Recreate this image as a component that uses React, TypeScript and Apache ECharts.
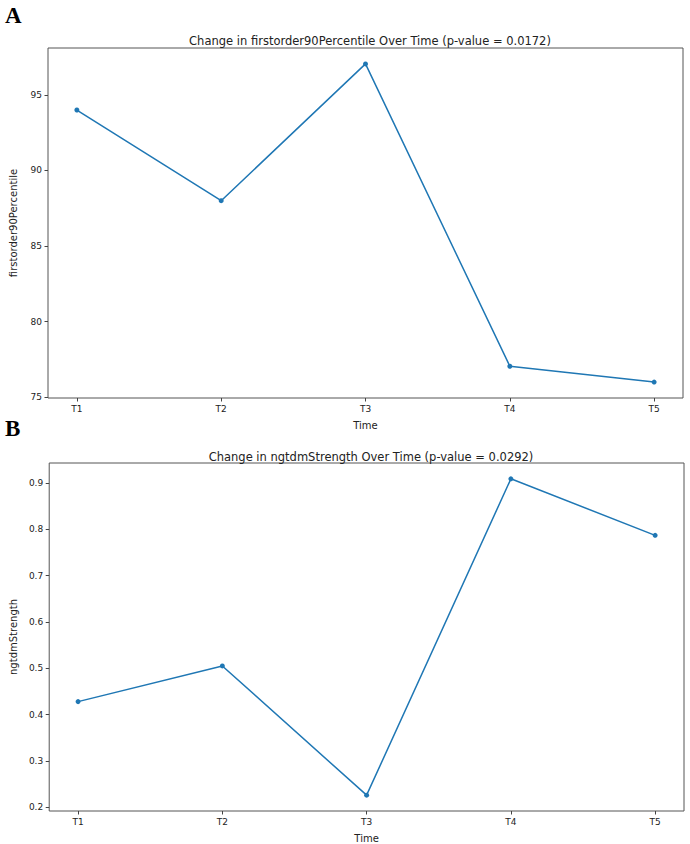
import React, { useEffect, useRef } from "react";
import * as echarts from "echarts";

const timePoints = ["T1", "T2", "T3", "T4", "T5"];
const percentile90 = [94.0, 88.0, 97.05, 77.05, 76.0];
const ngtdmStrength = [0.428, 0.505, 0.226, 0.909, 0.787];
const ticksA = [75, 80, 85, 90, 95];
const ticksB = [0.2, 0.3, 0.4, 0.5, 0.6, 0.7, 0.8, 0.9];

const FONT = "DejaVu Sans";
const LINE = "#1f77b4";
const FRAME = "#555";

function yRange(vals: number[]) {
  const lo = Math.min(...vals);
  const hi = Math.max(...vals);
  const pad = (hi - lo) * 0.05;
  return [lo - pad, hi + pad];
}

export default function App() {
  const ref = useRef<HTMLDivElement>(null);

  useEffect(() => {
    if (!ref.current) return;
    const chart = echarts.init(ref.current, null, { renderer: "svg" });
    const [aMin, aMax] = yRange(percentile90);
    const [bMin, bMax] = yRange(ngtdmStrength);
    const idx = timePoints.map((_, i) => i);

    const xAxisFor = (gridIndex: number) => ({
      type: "value",
      gridIndex,
      position: "bottom",
      min: -0.2,
      max: 4.2,
      name: "Time",
      nameLocation: "middle",
      nameGap: 22,
      nameTextStyle: { fontFamily: FONT, fontSize: 10, color: "#222" },
      axisLine: { show: false, onZero: false },
      axisTick: { show: true, length: 3.5, lineStyle: { color: "#444" }, customValues: idx },
      axisLabel: {
        fontFamily: FONT,
        fontSize: 9,
        color: "#222",
        margin: 6,
        customValues: idx,
        formatter: (v: number) => timePoints[Math.round(v)] ?? "",
      },
      splitLine: { show: false },
    });

    const yAxisFor = (gridIndex: number, min: number, max: number, ticks: number[], name: string, gap: number, dec: number) => ({
      type: "value",
      gridIndex,
      position: "left",
      min,
      max,
      name,
      nameLocation: "middle",
      nameGap: gap,
      nameTextStyle: { fontFamily: FONT, fontSize: 10, color: "#222" },
      axisLine: { show: false, onZero: false },
      axisTick: { show: true, length: 3.5, lineStyle: { color: "#444" }, customValues: ticks },
      axisLabel: {
        fontFamily: FONT,
        fontSize: 9,
        color: "#222",
        margin: 6,
        customValues: ticks,
        formatter: (v: number) => v.toFixed(dec),
      },
      splitLine: { show: false },
    });

    chart.setOption({
      animation: false,
      backgroundColor: "#fff",
      title: [
        {
          text: "Change in firstorder90Percentile Over Time (p-value = 0.0172)",
          left: 365,
          top: 30,
          textAlign: "center",
          textStyle: { fontFamily: FONT, fontSize: 11.5, fontWeight: "normal", color: "#222" },
        },
        {
          text: "Change in ngtdmStrength Over Time (p-value = 0.0292)",
          left: 366,
          top: 446,
          textAlign: "center",
          textStyle: { fontFamily: FONT, fontSize: 11.5, fontWeight: "normal", color: "#222" },
        },
      ],
      graphic: [
        { type: "text", left: 5, top: 4, style: { text: "A", font: "bold 23px 'Liberation Serif'", fill: "#000" } },
        { type: "text", left: 5, top: 417, style: { text: "B", font: "bold 23px 'Liberation Serif'", fill: "#000" } },
      ],
      grid: [
        { left: 46, top: 48, width: 637, height: 350, show: true, borderColor: FRAME, borderWidth: 1, backgroundColor: "transparent" },
        { left: 47, top: 463, width: 637, height: 351, show: true, borderColor: FRAME, borderWidth: 1, backgroundColor: "transparent" },
      ],
      xAxis: [xAxisFor(0), xAxisFor(1)],
      yAxis: [
        yAxisFor(0, aMin, aMax, ticksA, "firstorder90Percentile", 30, 0),
        yAxisFor(1, bMin, bMax, ticksB, "ngtdmStrength", 28, 1),
      ],
      series: [
        {
          type: "line",
          xAxisIndex: 0,
          yAxisIndex: 0,
          data: percentile90.map((v, i) => [i, v]),
          symbol: "circle",
          symbolSize: 5,
          lineStyle: { color: LINE, width: 1.5 },
          itemStyle: { color: LINE },
        },
        {
          type: "line",
          xAxisIndex: 1,
          yAxisIndex: 1,
          data: ngtdmStrength.map((v, i) => [i, v]),
          symbol: "circle",
          symbolSize: 5,
          lineStyle: { color: LINE, width: 1.5 },
          itemStyle: { color: LINE },
        },
      ],
    });

    return () => chart.dispose();
  }, []);

  return <div ref={ref} style={{ position: "absolute", left: 0, top: 0, width: 690, height: 844 }} />;
}
